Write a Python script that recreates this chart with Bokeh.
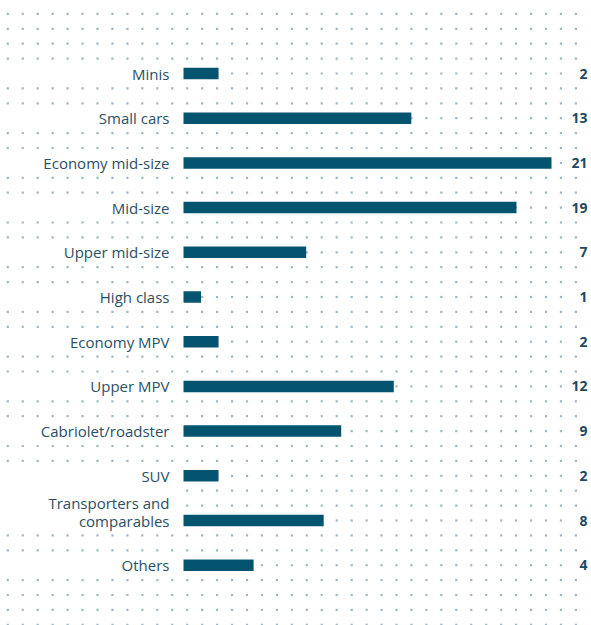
import numpy as np
from bokeh.plotting import figure
from bokeh.models import Range1d, ColumnDataSource
from bokeh.core.properties import value
from bokeh.embed import file_html
from bokeh.resources import INLINE

# ---- data ----
categories = ["Minis", "Small cars", "Economy mid-size", "Mid-size", "Upper mid-size",
              "High class", "Economy MPV", "Upper MPV", "Cabriolet/roadster", "SUV",
              "Transporters and\ncomparables", "Others"]
values = [2, 13, 21, 19, 7, 1, 2, 12, 9, 2, 8, 4]

# ---- layout constants (pixels) ----
W, H = 591, 625
PX = 17.524          # px per unit
X0 = 183.0           # figure-pixel position of value 0
ROW = 14.9           # dot-row pitch
Y0 = 13.4            # figure-pixel y of dot row 0
FIRST_ROW, STEP = 4, 3

BAR_COLOR = "#04546f"
TXT_COLOR = "#2b4f66"
VAL_COLOR = "#1d4a63"
DOT_COLOR = "#9db7c6"
FONT = "Open Sans"

def px_to_x(fx):
    return (fx - X0) / PX

def row_to_py(r):
    return Y0 + ROW * r

p = figure(width=W, height=H, output_backend="svg", toolbar_location=None,
           x_range=Range1d(px_to_x(0), px_to_x(W)),
           y_range=Range1d((H - Y0) / ROW, -Y0 / ROW),
           min_border=0, min_border_left=0, min_border_right=0,
           min_border_top=0, min_border_bottom=0)
p.outline_line_color = None
p.axis.visible = False
p.grid.visible = False
p.background_fill_color = "white"
p.border_fill_color = "white"

bar_rows = [FIRST_ROW + STEP * i for i in range(len(categories))]

# ---- dot grid ----
hidden_left_rows = set()
for r, c in zip(bar_rows, categories):
    n = len(c.split("\n"))
    cy = row_to_py(r)
    top = cy - (n - 1) * 18 - 13
    for rr in range(42):
        if top <= row_to_py(rr) <= cy + 1:
            hidden_left_rows.add(rr)

dx, dy = [], []
for rr in range(42):
    fy = row_to_py(rr)
    if fy > H:
        continue
    for k in range(39):
        fx = 7.3 + 14.95 * k
        if rr in hidden_left_rows and fx < X0:
            continue
        if rr in bar_rows and fx > W - 20:
            continue
        dx.append(px_to_x(fx))
        dy.append(rr)
p.scatter(dx, dy, marker="square", size=2.2, fill_color=DOT_COLOR,
          line_color=None)

# ---- bars ----
src = ColumnDataSource(dict(row=bar_rows, val=values,
                            lab=[str(v) for v in values]))
p.hbar(y="row", left=0, right="val", height=11.5 / ROW, source=src,
       fill_color=BAR_COLOR, line_color=None)

# ---- category labels ----
tx, ty, tt, toff = [], [], [], []
for r, c in zip(bar_rows, categories):
    lines = c.split("\n")
    n = len(lines)
    for j, ln in enumerate(lines):
        tx.append(px_to_x(X0 - 14))
        ty.append(r)
        tt.append(ln)
        toff.append(-(n - 1 - j) * 18)
p.text(x=tx, y=ty, text=tt, y_offset=toff, text_align="right",
       text_baseline="middle", text_font=value(FONT),
       text_font_size="15px", text_color=TXT_COLOR)

# ---- value labels ----
p.text(x=px_to_x(587), y="row", text="lab", source=src, y_offset=0,
       text_align="right", text_baseline="middle", text_font=value(FONT),
       text_font_size="14px", text_font_style="bold", text_color=VAL_COLOR)

open("out.html", "w").write(file_html(p, INLINE))
